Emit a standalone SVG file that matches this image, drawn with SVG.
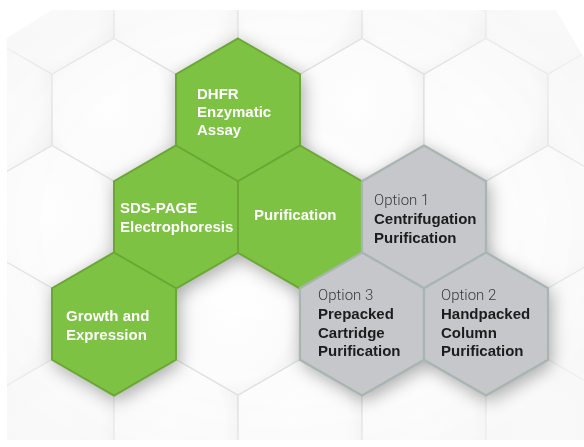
<svg xmlns="http://www.w3.org/2000/svg" xmlns:xlink="http://www.w3.org/1999/xlink" width="584" height="447" viewBox="0 0 584 447">
  <defs>
    <path id="hex" d="M0,-71.5 L62,-35.75 L62,35.75 L0,71.5 L-62,35.75 L-62,-35.75 Z"/>
    <radialGradient id="tileGrad" cx="0.45" cy="0.45" r="0.6">
      <stop offset="0" stop-color="#ffffff"/>
      <stop offset="0.75" stop-color="#fcfcfc"/>
      <stop offset="1" stop-color="#efefef"/>
    </radialGradient>
    <radialGradient id="fadeGrad" cx="0.48" cy="0.5" r="0.62">
      <stop offset="0" stop-color="#fff" stop-opacity="1"/>
      <stop offset="0.65" stop-color="#fff" stop-opacity="0.8"/>
      <stop offset="1" stop-color="#fff" stop-opacity="0.25"/>
    </radialGradient>
    <mask id="fadeMask">
      <rect x="0" y="0" width="584" height="447" fill="url(#fadeGrad)"/>
    </mask>
    <clipPath id="pageClip">
      <polygon points="7,38 52,10 556,10 584,58 584,440 7,440"/>
    </clipPath>
    <filter id="shadow" x="-30%" y="-30%" width="160%" height="160%">
      <feGaussianBlur stdDeviation="9"/>
    </filter>
    <style>
      .tile { fill: url(#tileGrad); stroke: #d6dcdb; stroke-width: 1.3; }
      .green { fill: #7dc243; stroke: #6aa734; stroke-width: 2; }
      .gray { fill: #c6c7cb; stroke: #a9b5b1; stroke-width: 2.2; }
      .shade { fill: #000; }
      .lw { font-family: "Liberation Sans", Arial, sans-serif; font-size: 15px; font-weight: bold; fill: #ffffff; }
      .lb { font-family: "Liberation Sans", Arial, sans-serif; font-size: 15px; font-weight: bold; fill: #1c1c1c; }
      .lo { font-family: Roboto, "Liberation Sans", Arial, sans-serif; font-size: 15px; font-weight: 300; fill: #3a3a3a; }
    </style>
  </defs>

  <!-- page background -->
  <rect x="0" y="0" width="584" height="447" fill="#ffffff"/>
  <polygon points="7,38 52,10 556,10 584,58 584,440 7,440" fill="#f7f7f7"/>

  <!-- background hex grid -->
  <g id="background-grid" clip-path="url(#pageClip)">
    <g mask="url(#fadeMask)">
      <use xlink:href="#hex" href="#hex" class="tile" x="-10" y="-104"/>
      <use xlink:href="#hex" href="#hex" class="tile" x="114" y="-104"/>
      <use xlink:href="#hex" href="#hex" class="tile" x="238" y="-104"/>
      <use xlink:href="#hex" href="#hex" class="tile" x="362" y="-104"/>
      <use xlink:href="#hex" href="#hex" class="tile" x="486" y="-104"/>
      <use xlink:href="#hex" href="#hex" class="tile" x="610" y="-104"/>

      <use xlink:href="#hex" href="#hex" class="tile" x="-72" y="3"/>
      <use xlink:href="#hex" href="#hex" class="tile" x="52" y="3"/>
      <use xlink:href="#hex" href="#hex" class="tile" x="176" y="3"/>
      <use xlink:href="#hex" href="#hex" class="tile" x="300" y="3"/>
      <use xlink:href="#hex" href="#hex" class="tile" x="424" y="3"/>
      <use xlink:href="#hex" href="#hex" class="tile" x="548" y="3"/>

      <use xlink:href="#hex" href="#hex" class="tile" x="-10" y="110"/>
      <use xlink:href="#hex" href="#hex" class="tile" x="114" y="110"/>
      <use xlink:href="#hex" href="#hex" class="tile" x="362" y="110"/>
      <use xlink:href="#hex" href="#hex" class="tile" x="486" y="110"/>
      <use xlink:href="#hex" href="#hex" class="tile" x="610" y="110"/>

      <use xlink:href="#hex" href="#hex" class="tile" x="-72" y="217"/>
      <use xlink:href="#hex" href="#hex" class="tile" x="52" y="217"/>
      <use xlink:href="#hex" href="#hex" class="tile" x="548" y="217"/>

      <use xlink:href="#hex" href="#hex" class="tile" x="-10" y="324"/>
      <use xlink:href="#hex" href="#hex" class="tile" x="238" y="324"/>
      <use xlink:href="#hex" href="#hex" class="tile" x="610" y="324"/>

      <use xlink:href="#hex" href="#hex" class="tile" x="-72" y="431"/>
      <use xlink:href="#hex" href="#hex" class="tile" x="52" y="431"/>
      <use xlink:href="#hex" href="#hex" class="tile" x="176" y="431"/>
      <use xlink:href="#hex" href="#hex" class="tile" x="300" y="431"/>
      <use xlink:href="#hex" href="#hex" class="tile" x="424" y="431"/>
      <use xlink:href="#hex" href="#hex" class="tile" x="548" y="431"/>
    </g>
  </g>

  <!-- soft shadow under the cluster -->
  <g id="cluster-shadow" filter="url(#shadow)" opacity="0.34" transform="translate(3,5)">
    <use xlink:href="#hex" href="#hex" class="shade" x="238" y="110"/>
    <use xlink:href="#hex" href="#hex" class="shade" x="176" y="217"/>
    <use xlink:href="#hex" href="#hex" class="shade" x="300" y="217"/>
    <use xlink:href="#hex" href="#hex" class="shade" x="424" y="217"/>
    <use xlink:href="#hex" href="#hex" class="shade" x="114" y="324"/>
    <use xlink:href="#hex" href="#hex" class="shade" x="362" y="324"/>
    <use xlink:href="#hex" href="#hex" class="shade" x="486" y="324"/>
  </g>

  <g id="connectors"/>

  <g id="node-dhfr">
    <use xlink:href="#hex" href="#hex" class="green" x="238" y="110"/>
    <text class="lw" x="197" y="99">DHFR</text>
    <text class="lw" x="197" y="117">Enzymatic</text>
    <text class="lw" x="197" y="135">Assay</text>
  </g>

  <g id="node-sds-page">
    <use xlink:href="#hex" href="#hex" class="green" x="176" y="217"/>
    <text class="lw" x="120" y="213">SDS-PAGE</text>
    <text class="lw" x="120" y="232">Electrophoresis</text>
  </g>

  <g id="node-purification">
    <use xlink:href="#hex" href="#hex" class="green" x="300" y="217"/>
    <text class="lw" x="254" y="220">Purification</text>
  </g>

  <g id="node-growth">
    <use xlink:href="#hex" href="#hex" class="green" x="114" y="324"/>
    <text class="lw" x="66" y="321">Growth and</text>
    <text class="lw" x="66" y="340">Expression</text>
  </g>

  <g id="node-option1">
    <use xlink:href="#hex" href="#hex" class="gray" x="424" y="217"/>
    <text class="lo" x="374" y="205">Option 1</text>
    <text class="lb" x="374" y="224">Centrifugation</text>
    <text class="lb" x="374" y="243">Purification</text>
  </g>

  <g id="node-option3">
    <use xlink:href="#hex" href="#hex" class="gray" x="362" y="324"/>
    <text class="lo" x="318" y="300">Option 3</text>
    <text class="lb" x="318" y="319">Prepacked</text>
    <text class="lb" x="318" y="338">Cartridge</text>
    <text class="lb" x="318" y="356">Purification</text>
  </g>

  <g id="node-option2">
    <use xlink:href="#hex" href="#hex" class="gray" x="486" y="324"/>
    <text class="lo" x="441" y="300">Option 2</text>
    <text class="lb" x="441" y="319">Handpacked</text>
    <text class="lb" x="441" y="338">Column</text>
    <text class="lb" x="441" y="356">Purification</text>
  </g>
</svg>
